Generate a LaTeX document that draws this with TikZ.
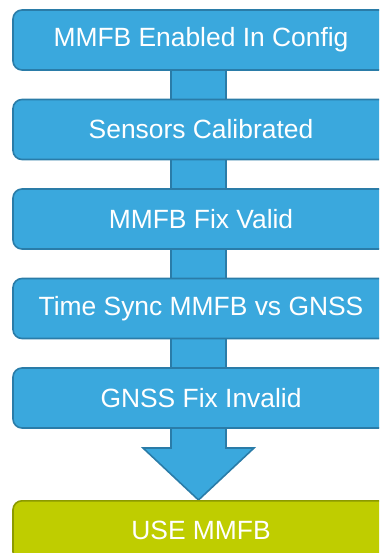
\documentclass[tikz,border=0pt]{standalone}
\usepackage{fontspec}
\setmainfont{Liberation Sans}
\usetikzlibrary{calc}
\definecolor{stepblue}{RGB}{58,168,221}
\definecolor{stepblueedge}{RGB}{42,124,168}
\definecolor{goalgreen}{RGB}{191,205,0}
\definecolor{goalgreenedge}{RGB}{140,154,0}
\tikzset{
  stepbox/.style={draw=stepblueedge, fill=stepblue, line width=1.6bp,
    rounded corners=9bp, minimum width=376bp, minimum height=60bp,
    inner sep=0pt, text=white, font=\fontsize{26.4bp}{30bp}\selectfont},
  goalbox/.style={stepbox, draw=goalgreenedge, fill=goalgreen},
  flowarrow/.style={draw=stepblueedge, fill=stepblue, line width=1.6bp, line join=miter}
}
\begin{document}
\begin{tikzpicture}[x=1bp,y=-1bp]
  \useasboundingbox (0,0) rectangle (379,553);
  \clip (0,0) rectangle (379,553);
  % anchor points of the flow
  \coordinate (c1) at (198.5,40);
  \coordinate (tip) at (198.5,500);
  % the downward arrow running behind all steps
  \path[flowarrow]
    ([xshift=-27.5bp]c1) -- ([xshift=27.5bp]c1)
    -- ([xshift=27.5bp,yshift=52bp]tip) -- ([xshift=55.5bp,yshift=52bp]tip)
    -- (tip)
    -- ([xshift=-55.5bp,yshift=52bp]tip) -- ([xshift=-27.5bp,yshift=52bp]tip) -- cycle;
  % flow steps
  \node[stepbox] (s1) at (201,40)    {MMFB Enabled In Config};
  \node[stepbox] (s2) at (201,129.5) {Sensors Calibrated};
  \node[stepbox] (s3) at (201,219)   {MMFB Fix Valid};
  \node[stepbox] (s4) at (201,308.5) {Time Sync MMFB vs GNSS};
  \node[stepbox] (s5) at (201,398)   {GNSS Fix Invalid};
  \node[goalbox, anchor=north] (g) at (201,500) {USE MMFB};
\end{tikzpicture}
\end{document}
